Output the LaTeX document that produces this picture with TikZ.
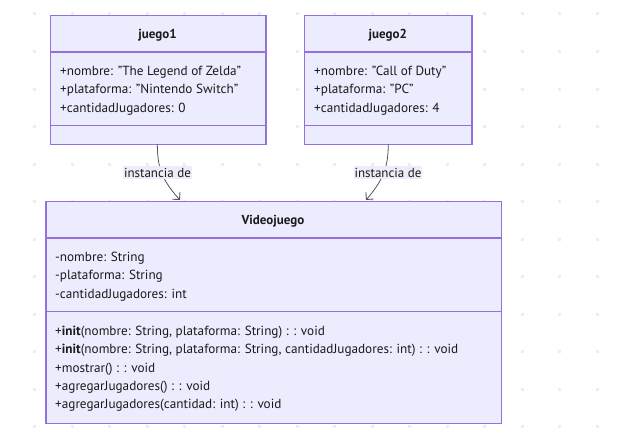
\documentclass[tikz,border=0pt]{standalone}
\usepackage{fontspec}
\setmainfont{PT Sans}
\usetikzlibrary{arrows.meta}
\definecolor{boxfill}{HTML}{ECECFF}
\definecolor{boxline}{HTML}{9370DB}
\definecolor{dotc}{HTML}{EDEDED}
\definecolor{lblbg}{HTML}{EDEDFA}
\definecolor{txt}{HTML}{1A1A1A}
\definecolor{conn}{HTML}{555555}
\tikzset{
  umlbox/.style={draw=boxline, fill=boxfill, line width=1.4pt, inner sep=0pt, anchor=north west},
  sep/.style={draw=boxline, line width=1.4pt},
  ttl/.style={font=\fontsize{13}{16}\selectfont\bfseries, text=txt, anchor=base, inner sep=0pt},
  mem/.style={font=\fontsize{13.2}{16}\selectfont, text=txt, anchor=base west, inner sep=0pt},
  lbl/.style={font=\fontsize{13}{16}\selectfont, text=txt, fill=lblbg, inner xsep=1pt, inner ysep=2pt},
  connector/.style={draw=conn, line width=0.8pt, -{Straight Barb[length=5pt,width=10pt,line width=0.9pt]}},
}
\begin{document}
\begin{tikzpicture}[x=1pt,y=-1pt]
\useasboundingbox (0,0) rectangle (618,444);
\fill[white] (0,0) rectangle (618,444);
% dotted grid background
\foreach \i in {0,...,15}{
  \foreach \j in {0,...,11}{
    \fill[dotc] (33.2+37.5*\i,12.5+37.5*\j) rectangle +(3,3);
  }
}
% juego1
\node[umlbox, minimum width=215.3pt, minimum height=129.3pt] (j1) at (50,14.7) {};
\draw[sep] (50,52) -- (265.3,52);
\draw[sep] (50,125.5) -- (265.3,125.5);
\node[ttl] (j1t) at (157.6,38.5) {juego1};
\node[mem] (j1a) at (60,75.5) {+nombre: "The Legend of Zelda"};
\node[mem] (j1b) at (60,93.8) {+plataforma: "Nintendo Switch"};
\node[mem] (j1c) at (60,112.1) {+cantidadJugadores: 0};
% juego2
\node[umlbox, minimum width=167.3pt, minimum height=129.3pt] (j2) at (304,14.7) {};
\draw[sep] (304,52) -- (471.3,52);
\draw[sep] (304,125.5) -- (471.3,125.5);
\node[ttl] (j2t) at (387.7,38.5) {juego2};
\node[mem] (j2a) at (314,75.5) {+nombre: "Call of Duty"};
\node[mem] (j2b) at (314,93.8) {+plataforma: "PC"};
\node[mem] (j2c) at (314,112.1) {+cantidadJugadores: 4};
% Videojuego
\node[umlbox, minimum width=455.4pt, minimum height=222pt] (v) at (45.3,200.7) {};
\draw[sep] (45.3,238) -- (500.7,238);
\draw[sep] (45.3,311.7) -- (500.7,311.7);
\node[ttl] (vt) at (273,224.5) {Videojuego};
\node[mem] (va) at (55,261.5) {-nombre: String};
\node[mem] (vb) at (55,279.8) {-plataforma: String};
\node[mem] (vc) at (55,298.1) {-cantidadJugadores: int};
\node[mem] (vm1) at (55,335.5) {+\textbf{init}(nombre: String, plataforma: String) : : void};
\node[mem] (vm2) at (55,353.8) {+\textbf{init}(nombre: String, plataforma: String, cantidadJugadores: int) : : void};
\node[mem] (vm3) at (55,372.1) {+mostrar() : : void};
\node[mem] (vm4) at (55,390.4) {+agregarJugadores() : : void};
\node[mem] (vm5) at (55,408.7) {+agregarJugadores(cantidad: int) : : void};
% connectors
\coordinate (s1) at (157.3,144.3);
\coordinate (t1) at (180,200);
\coordinate (s2) at (388.3,144.3);
\coordinate (t2) at (366,200);
\draw[connector] (s1) .. controls (157.6,165) and (160,178) .. (t1);
\draw[connector] (s2) .. controls (388,165) and (385,178) .. (t2);
\node[lbl] (l1) at (157.5,172.5) {instancia de};
\node[lbl] (l2) at (388,172.5) {instancia de};
\end{tikzpicture}
\end{document}
